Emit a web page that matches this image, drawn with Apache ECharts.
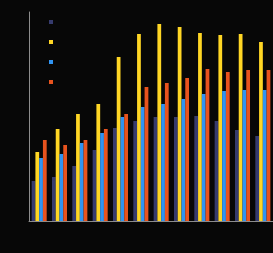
<!DOCTYPE html>
<html>
<head>
<meta charset="utf-8">
<script src="https://cdn.jsdelivr.net/npm/echarts@6/dist/echarts.min.js"></script>
<style>
  html, body { margin: 0; padding: 0; background: #070707; }
  #main { width: 273px; height: 253px; }
</style>
</head>
<body>
<div id="main"></div>
<script>
var categories = ['1', '2', '3', '4', '5', '6', '7', '8', '9', '10', '11', '12'];
var seriesNames = ['A', 'B', 'C', 'D'];
var seriesA = [40, 44, 55, 71, 93, 100, 104, 104, 105, 100, 91, 85];
var seriesB = [69, 92, 107, 117, 164, 187, 197, 194, 188, 186, 187, 179];
var seriesC = [63, 67, 78, 88, 104, 114, 117, 122, 127, 130, 131, 131];
var seriesD = [81, 76, 81, 92, 107, 134, 138, 143, 152, 149, 151, 151];
var colors = ['#363b6e', '#ffd624', '#3094f2', '#e8531e'];

var myChart = echarts.init(document.getElementById('main'));

var allData = [seriesA, seriesB, seriesC, seriesD];
var series = [];
for (var i = 0; i < allData.length; i++) {
    series.push({
        name: seriesNames[i],
        type: 'bar',
        data: allData[i],
        barGap: '0%',
        barCategoryGap: '26%',
        itemStyle: { color: colors[i] }
    });
}

var option = {
    backgroundColor: '#070707',
    animation: false,
    color: colors,
    legend: {
        orient: 'vertical',
        left: 44,
        top: 15,
        itemWidth: 4,
        itemHeight: 4,
        itemGap: 16,
        icon: 'rect',
        textStyle: { color: '#070707', fontSize: 1 },
        data: seriesNames
    },
    grid: {
        left: 29,
        right: 0,
        top: 12,
        bottom: 32
    },
    xAxis: {
        type: 'category',
        data: categories,
        axisLine: { lineStyle: { color: '#8c8c8c', width: 1 } },
        axisTick: { show: false },
        axisLabel: { show: false }
    },
    yAxis: {
        type: 'value',
        min: 0,
        max: 209,
        splitLine: { show: false },
        axisLine: { show: true, lineStyle: { color: '#8c8c8c', width: 1 } },
        axisTick: { show: false },
        axisLabel: { show: false }
    },
    series: series
};

myChart.setOption(option);
</script>
</body>
</html>
